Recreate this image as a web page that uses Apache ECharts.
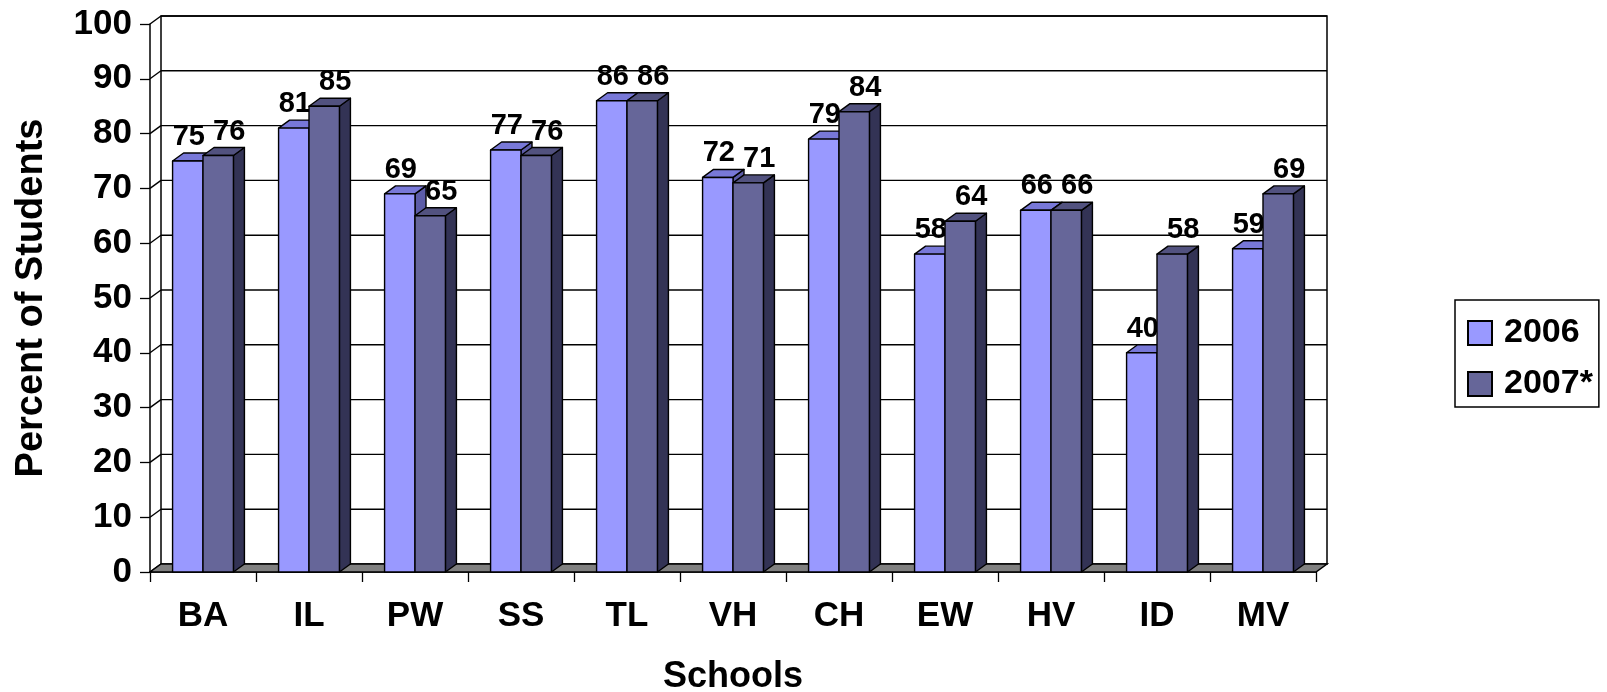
<!DOCTYPE html>
<html>
<head>
<meta charset="utf-8">
<script src="https://cdn.jsdelivr.net/npm/echarts@6/dist/echarts.min.js"></script>
<style>
  html, body { margin: 0; padding: 0; background: #fff; }
  #chart { width: 1607px; height: 692px; }
</style>
</head>
<body>
<div id="chart"></div>
<script>
const categories = ['BA', 'IL', 'PW', 'SS', 'TL', 'VH', 'CH', 'EW', 'HV', 'ID', 'MV'];
const values2006 = [75, 81, 69, 77, 86, 72, 79, 58, 66, 40, 59];
const values2007 = [76, 85, 65, 76, 86, 71, 84, 64, 66, 58, 69];
const seriesNames = ['2006', '2007*'];
const yTicks = [0, 10, 20, 30, 40, 50, 60, 70, 80, 90, 100];

const FONT = '"Liberation Sans", Arial, sans-serif';
const DX = 11, DY = -8;
const faceColors = [
  { front: '#9999FF', top: '#7878D8', side: '#5C5CA8' },
  { front: '#666699', top: '#52527F', side: '#333355' }
];
const labelShift = [1, 11];

function barRender(s) {
  return function (params, api) {
    const idx = api.value(0);
    const val = api.value(1);
    const top = api.coord([idx, val]);
    const base = api.coord([idx, 0]);
    const bw = api.size([1, 0])[0] * 0.287;
    const x0 = s === 0 ? top[0] - bw : top[0];
    const yT = top[1], yB = base[1];
    const c = faceColors[s];
    const stroke = { stroke: '#000', lineWidth: 1.4, lineJoin: 'round' };
    return {
      type: 'group',
      children: [
        { type: 'polygon', shape: { points: [[x0 + bw, yT], [x0 + bw + DX, yT + DY], [x0 + bw + DX, yB + DY], [x0 + bw, yB]] },
          style: Object.assign({ fill: c.side }, stroke) },
        { type: 'polygon', shape: { points: [[x0, yT], [x0 + bw, yT], [x0 + bw + DX, yT + DY], [x0 + DX, yT + DY]] },
          style: Object.assign({ fill: c.top }, stroke) },
        { type: 'rect', shape: { x: x0, y: yT, width: bw, height: yB - yT },
          style: Object.assign({ fill: c.front }, stroke) },
        { type: 'text', z2: 10,
          style: { text: String(val), x: x0 + bw / 2 + labelShift[s], y: yT - 24,
                   align: 'center', verticalAlign: 'middle',
                   font: 'bold 29px ' + FONT, fill: '#000' } }
      ]
    };
  };
}

function frameRender(params, api) {
  const cs = params.coordSys;
  const L = cs.x, R = cs.x + cs.width, T = cs.y, B = cs.y + cs.height;
  const lineStyle = { stroke: '#000', lineWidth: 1.4 };
  const children = [];
  children.push({ type: 'rect', shape: { x: L + DX, y: T + DY, width: R - L, height: B - T },
    style: { fill: '#fff', stroke: '#000', lineWidth: 1.5 } });
  yTicks.forEach(function (t) {
    const y = api.coord([0, t])[1];
    if (t > 0) {
      children.push({ type: 'line', shape: { x1: L + DX, y1: y + DY, x2: R + DX, y2: y + DY }, style: lineStyle });
    }
    children.push({ type: 'line', shape: { x1: L, y1: y, x2: L + DX, y2: y + DY }, style: lineStyle });
  });
  children.push({ type: 'polygon', shape: { points: [[L, B], [R, B], [R + DX, B + DY], [L + DX, B + DY]] },
    style: { fill: '#808080', stroke: '#000', lineWidth: 1.5 } });
  return { type: 'group', children: children };
}

const chart = echarts.init(document.getElementById('chart'));
chart.setOption({
  animation: false,
  backgroundColor: '#fff',
  grid: { left: 150, right: 291, top: 24, bottom: 120, containLabel: false, outerBoundsMode: 'none' },
  legend: {
    orient: 'vertical',
    left: 1455, top: 300,
    padding: [16, 6, 6, 12],
    itemWidth: 24, itemHeight: 24, itemGap: 17,
    borderColor: '#000', borderWidth: 1.5,
    icon: 'rect',
    formatter: function (name) { return '{a|' + name + '}'; },
    textStyle: {
      fontFamily: FONT, fontWeight: 'bold', fontSize: 34, color: '#000',
      rich: { a: { fontFamily: FONT, fontWeight: 'bold', fontSize: 34, color: '#000', padding: [0, 0, 0, 7] } }
    },
    data: seriesNames
  },
  xAxis: {
    type: 'category',
    data: categories,
    boundaryGap: true,
    name: 'Schools',
    nameLocation: 'middle',
    nameGap: 87,
    nameTextStyle: { fontFamily: FONT, fontWeight: 'bold', fontSize: 36, color: '#000' },
    axisLine: { show: true, lineStyle: { color: '#000', width: 1.5 } },
    axisTick: { show: true, length: 10, lineStyle: { color: '#000', width: 1.3 } },
    axisLabel: { fontFamily: FONT, fontWeight: 'bold', fontSize: 35, color: '#000', margin: 27 },
    splitLine: { show: false }
  },
  yAxis: {
    type: 'value',
    min: 0, max: 100, interval: 10,
    name: 'Percent of Students',
    nameLocation: 'middle',
    nameGap: 99,
    nameRotate: 90,
    nameTextStyle: { fontFamily: FONT, fontWeight: 'bold', fontSize: 38, color: '#000' },
    axisLine: { show: true, lineStyle: { color: '#000', width: 1.5 } },
    axisTick: { show: true, length: 10, lineStyle: { color: '#000', width: 1.3 } },
    axisLabel: { fontFamily: FONT, fontWeight: 'bold', fontSize: 35, color: '#000', margin: 18 },
    splitLine: { show: false }
  },
  series: [
    { type: 'custom', name: 'frame', z: 1, silent: true, renderItem: frameRender, data: [[0, 0]],
      encode: { x: 0, y: 1 } },
    { type: 'custom', name: seriesNames[0], z: 3, renderItem: barRender(0),
      itemStyle: { color: faceColors[0].front, borderColor: '#000', borderWidth: 1 },
      data: values2006.map(function (v, i) { return [i, v]; }), encode: { x: 0, y: 1 } },
    { type: 'custom', name: seriesNames[1], z: 4, renderItem: barRender(1),
      itemStyle: { color: faceColors[1].front, borderColor: '#000', borderWidth: 1 },
      data: values2007.map(function (v, i) { return [i, v]; }), encode: { x: 0, y: 1 } }
  ]
});
</script>
</body>
</html>
